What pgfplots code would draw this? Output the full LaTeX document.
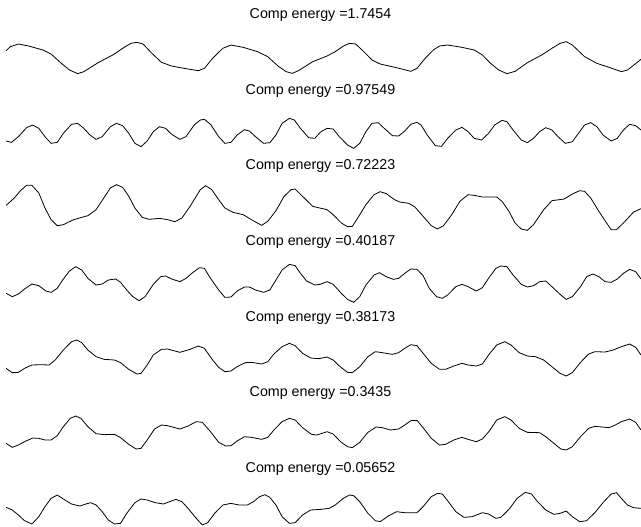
\documentclass[border=0pt]{standalone}
\usepackage{pgfplots}
\pgfplotsset{compat=1.18}
\usepackage{fontspec}
\setmainfont{Liberation Sans}
\pgfplotsset{
  every axis title shift=0pt,
  comp/.style={
    scale only axis, width=480.75pt, xmin=0, xmax=1568,
    axis lines=none, ticks=none, y dir=reverse, clip=false,
    anchor=north west,
    title style={at={(0.5,1)}, anchor=base, font=\fontsize{10.7pt}{12pt}\selectfont},
  },
  wave/.style={black, line width=0.6pt, mark=none},
}
\begin{document}
\begin{tikzpicture}
\path[use as bounding box] (0,0) rectangle (480.75pt,-394.5pt);
% Panel 1
\begin{axis}[comp, at={(0pt,-22.5pt)}, height=37.5pt, ymin=0, ymax=150,
  title={Comp energy =1.7454}, title style={yshift=8.8pt}]
\addplot[wave] coordinates {
(15,62) (25,50) (45,42) (70,48) (105,60) (125,72) (150,100) (170,120) (190,131) (205,125)
(240,98) (280,72) (300,55) (320,40) (335,37) (350,42) (370,68) (395,97) (420,108) (450,115)
(485,122) (500,115) (520,85) (545,55) (565,45) (595,52) (630,65) (655,80) (680,108) (700,125)
(715,130) (730,122) (765,95) (800,78) (820,65) (840,48) (855,40) (870,42) (890,65) (910,90)
(930,102) (970,113) (1005,124) (1020,115) (1040,85) (1060,60) (1075,48) (1095,45) (1130,52) (1160,60)
(1180,75) (1200,100) (1220,120) (1240,131) (1260,124) (1290,98) (1325,75) (1350,55) (1370,40) (1385,35)
(1400,45) (1430,80) (1460,100) (1490,112) (1520,125) (1535,120) (1568,88)};
\end{axis}
% Panel 2
\begin{axis}[comp, at={(0pt,-78.75pt)}, height=37.5pt, ymin=0, ymax=150,
  title={Comp energy =0.97549}, title style={yshift=8.25pt}]
\addplot[wave] coordinates {
(15,108) (28,112) (45,95) (65,68) (80,60) (95,70) (110,95) (125,115) (140,112) (155,85)
(175,58) (190,55) (205,70) (220,90) (235,103) (250,95) (270,65) (285,55) (300,62) (315,85)
(330,115) (345,125) (360,108) (375,80) (390,65) (405,70) (420,88) (440,103) (455,95) (475,60)
(490,45) (500,43) (515,58) (535,95) (550,115) (565,112) (580,90) (598,74) (610,78) (625,95)
(645,115) (660,113) (675,90) (690,55) (708,40) (720,45) (735,70) (755,98) (770,100) (785,80)
(800,70) (815,72) (830,95) (850,120) (865,130) (880,115) (895,80) (910,55) (925,53) (940,70)
(960,92) (975,93) (990,78) (1005,58) (1020,52) (1030,60) (1045,90) (1065,122) (1080,124) (1095,100)
(1115,75) (1130,67) (1145,80) (1160,100) (1178,105) (1195,85) (1210,60) (1228,46) (1240,50) (1255,75)
(1275,105) (1290,113) (1305,100) (1320,80) (1335,68) (1350,75) (1365,95) (1383,115) (1400,110) (1415,85)
(1430,60) (1445,53) (1460,65) (1475,90) (1495,108) (1510,100) (1525,75) (1540,58) (1555,62) (1568,75)};
\end{axis}
% Panel 3
\begin{axis}[comp, at={(0pt,-133.5pt)}, height=43.5pt, ymin=0, ymax=174,
  title={Comp energy =0.72223}, title style={yshift=6.3pt}]
\addplot[wave] coordinates {
(15,82) (35,60) (50,38) (65,22) (78,22) (95,45) (110,90) (125,125) (140,143) (155,140)
(180,125) (200,118) (215,113) (235,95) (255,58) (270,30) (285,20) (300,28) (315,55) (330,90)
(348,118) (365,124) (390,121) (410,125) (428,131) (445,120) (465,85) (490,35) (503,23) (518,35)
(535,65) (550,90) (570,103) (595,110) (615,125) (640,142) (655,130) (675,98) (695,55) (712,35)
(722,33) (740,55) (765,85) (775,88) (800,95) (815,110) (835,135) (850,146) (862,145) (875,120)
(895,80) (915,50) (930,41) (945,47) (965,65) (978,72) (1000,76) (1015,87) (1035,115) (1055,143)
(1070,153) (1085,143) (1105,110) (1125,70) (1145,50) (1160,52) (1180,57) (1195,57) (1215,57) (1228,70)
(1245,100) (1260,135) (1275,153) (1290,157) (1305,140) (1330,95) (1350,68) (1380,63) (1400,48) (1418,38)
(1430,40) (1445,60) (1465,100) (1480,128) (1495,155) (1508,155) (1525,135) (1550,102) (1568,92)};
\end{axis}
% Panel 4
\begin{axis}[comp, at={(0pt,-191.25pt)}, height=39pt, ymin=0, ymax=156,
  title={Comp energy =0.40187}, title style={yshift=7.3pt}]
\addplot[wave] coordinates {
(15,115) (30,125) (45,117) (60,102) (78,87) (95,92) (112,108) (125,112) (140,100) (155,72)
(170,48) (185,35) (200,45) (215,70) (235,90) (250,87) (265,75) (283,72) (295,82) (310,105)
(325,125) (340,137) (355,125) (375,88) (393,65) (405,63) (420,72) (440,80) (455,70) (472,52)
(488,38) (500,40) (515,70) (535,105) (550,127) (565,126) (580,108) (598,96) (610,96) (625,105)
(645,112) (660,105) (675,75) (690,45) (708,28) (722,32) (735,55) (750,78) (770,90) (783,88)
(800,80) (815,88) (835,115) (850,133) (865,142) (880,125) (895,90) (915,60) (928,53) (945,65)
(962,73) (975,70) (990,55) (1005,42) (1020,43) (1035,62) (1050,100) (1068,125) (1082,130) (1095,120)
(1115,95) (1130,88) (1145,95) (1165,108) (1180,98) (1195,70) (1213,40) (1225,33) (1240,35) (1255,60)
(1275,88) (1290,96) (1305,92) (1320,80) (1335,78) (1350,95) (1370,118) (1385,133) (1400,125) (1420,95)
(1435,65) (1450,57) (1465,65) (1480,80) (1495,82) (1510,72) (1525,55) (1540,43) (1555,50) (1568,72)};
\end{axis}
% Panel 5
\begin{axis}[comp, at={(0pt,-247.5pt)}, height=39pt, ymin=0, ymax=156,
  title={Comp energy =0.38173}, title style={yshift=6.75pt}]
\addplot[wave] coordinates {
(15,115) (30,128) (45,127) (60,115) (78,105) (100,104) (120,105) (135,90) (155,60) (175,35)
(188,30) (200,38) (215,60) (235,80) (255,88) (280,90) (295,98) (315,118) (335,132) (345,130)
(360,105) (375,75) (395,58) (410,57) (440,67) (465,58) (485,48) (500,55) (520,90) (535,112)
(550,125) (565,123) (580,110) (600,98) (615,97) (640,102) (655,95) (670,72) (690,50) (708,40)
(722,47) (740,70) (760,84) (780,86) (800,81) (815,90) (830,108) (850,127) (862,128) (880,110)
(900,80) (918,65) (930,67) (960,73) (975,68) (990,55) (1005,44) (1020,47) (1035,70) (1055,100)
(1075,118) (1090,118) (1110,108) (1130,100) (1145,105) (1165,108) (1180,102) (1195,75) (1215,45) (1235,35)
(1250,45) (1270,68) (1290,78) (1310,80) (1330,90) (1350,110) (1370,130) (1385,138) (1400,128) (1420,97)
(1440,72) (1455,65) (1480,66) (1500,60) (1520,50) (1540,42) (1555,52) (1568,75)};
\end{axis}
% Panel 6
\begin{axis}[comp, at={(0pt,-303.75pt)}, height=39pt, ymin=0, ymax=156,
  title={Comp energy =0.3435}, title style={yshift=6.3pt}]
\addplot[wave] coordinates {
(15,115) (30,127) (45,120) (60,110) (80,99) (95,100) (110,105) (125,105) (140,92) (155,65)
(172,40) (185,33) (198,40) (215,65) (235,86) (255,89) (280,88) (295,98) (315,118) (333,132)
(345,130) (360,105) (378,72) (395,60) (410,62) (440,72) (460,63) (480,50) (495,52) (515,80)
(535,112) (552,123) (565,122) (580,108) (598,95) (615,97) (640,103) (655,97) (670,75) (690,50)
(708,40) (722,45) (740,68) (762,88) (775,90) (800,80) (815,87) (833,110) (850,125) (862,128)
(880,112) (900,82) (920,66) (935,68) (955,75) (975,72) (990,60) (1005,47) (1020,46) (1035,68)
(1055,100) (1075,120) (1090,118) (1110,105) (1130,97) (1145,103) (1165,110) (1180,102) (1197,78) (1215,45)
(1235,35) (1250,45) (1270,70) (1290,82) (1320,83) (1335,95) (1355,115) (1372,132) (1385,135) (1400,125)
(1420,95) (1440,70) (1455,64) (1490,68) (1505,60) (1520,50) (1540,42) (1555,52) (1568,75)};
\end{axis}
% Panel 7
\begin{axis}[comp, at={(0pt,-360pt)}, height=34.5pt, ymin=0, ymax=138,
  title={Comp energy =0.05652}, title style={yshift=5.8pt}]
\addplot[wave] coordinates {
(15,82) (30,90) (45,105) (60,122) (78,132) (95,110) (110,80) (125,55) (140,45) (155,57)
(175,72) (195,78) (210,72) (222,68) (235,75) (250,95) (265,120) (280,132) (295,130) (310,100)
(330,68) (345,57) (360,60) (380,68) (400,72) (415,65) (430,58) (445,65) (460,85) (478,112)
(495,135) (508,128) (525,100) (545,75) (565,70) (585,75) (605,75) (620,65) (635,50) (648,44)
(660,52) (675,75) (690,110) (708,130) (722,128) (740,105) (760,90) (785,88) (805,85) (820,75)
(840,55) (855,45) (865,47) (880,65) (900,100) (918,122) (930,125) (950,108) (970,95) (990,98)
(1020,98) (1035,80) (1055,50) (1070,40) (1082,42) (1095,62) (1115,95) (1135,112) (1155,110) (1180,98)
(1195,102) (1213,115) (1225,112) (1245,88) (1265,55) (1285,37) (1300,42) (1315,65) (1335,90) (1355,103)
(1370,100) (1385,93) (1400,110) (1418,125) (1435,122) (1455,98) (1475,68) (1495,42) (1508,38) (1520,55)
(1535,75) (1550,83) (1568,85)};
\end{axis}
\end{tikzpicture}
\end{document}
